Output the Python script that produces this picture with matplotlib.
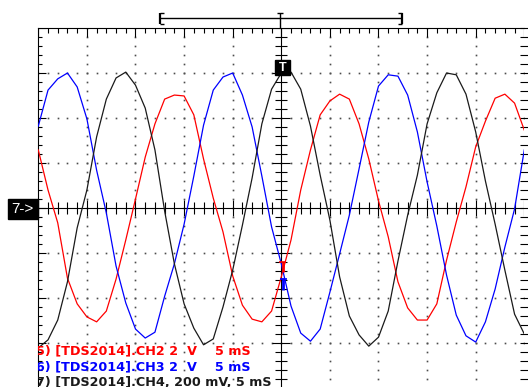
import numpy as np
import matplotlib.pyplot as plt
from matplotlib.patches import Rectangle

# scope screen: 5 ms/div, 10 div wide, 8 div high, trigger at centre
t_ms = np.arange(-25, 26, 1)

# CH2 (red), volts, 2 V/div
ch2_v = [2.58, 0.80, -0.66, -3.12, -4.26, -4.84, -5.06, -4.58, -3.16, -1.42,
         0.40, 2.26, 3.74, 4.84, 5.02, 4.98, 4.14, 2.18, 0.44, -1.06,
         -3.02, -4.32, -4.94, -5.06, -4.58, -3.06, -1.42, 0.80, 2.58, 4.14,
         4.76, 5.06, 4.84, 3.74, 2.18, 0.32, -1.28, -3.28, -4.44, -4.98,
         -4.98, -4.26, -2.32, -0.62, 0.94, 2.72, 3.86, 4.88, 5.06, 4.66, 3.46]
# CH3 (blue), volts, 2 V/div
ch3_v = [3.64, 5.24, 5.74, 6.00, 5.38, 3.96, 1.68, -0.22, -2.58, -4.22,
         -5.38, -5.78, -5.52, -3.92, -2.48, -0.72, 1.42, 3.68, 5.24, 5.82,
         6.00, 5.02, 3.60, 1.42, -0.84, -2.48, -4.36, -5.56, -5.92, -5.38,
         -3.74, -2.04, -0.32, 1.74, 3.82, 5.42, 5.92, 5.86, 5.02, 3.38,
         1.16, -0.80, -2.98, -4.76, -5.68, -5.96, -5.06, -3.60, -1.74, -0.04, 2.58]
# CH4 (black), volts, 200 mV/div
ch4_v = [-0.622, -0.586, -0.498, -0.328, -0.088, 0.080, 0.316, 0.484, 0.578, 0.604,
         0.546, 0.444, 0.258, -0.014, -0.248, -0.426, -0.534, -0.608, -0.582, -0.440,
         -0.276, -0.076, 0.134, 0.374, 0.528, 0.600, 0.604, 0.528, 0.364, 0.146,
         -0.054, -0.306, -0.480, -0.564, -0.614, -0.574, -0.458, -0.236, -0.032, 0.146,
         0.374, 0.512, 0.600, 0.592, 0.506, 0.338, 0.120, -0.072, -0.276, -0.472, -0.560]

volts_per_div = [2.0, 2.0, 0.2]
colors = ["#ff0000", "#0000ff", "#1a1a1a"]
labels = ["5) [TDS2014].CH2 2  V    5 mS",
          "6) [TDS2014].CH3 2  V    5 mS",
          "7) [TDS2014].CH4, 200 mV, 5 mS"]

W, H = 528, 387
fig = plt.figure(figsize=(W / 100, H / 100), dpi=100)
ax = fig.add_axes([38.3 / W, -1 / H, 486 / W, 360 / H])
ax.set_xlim(-25, 25)
ax.set_ylim(-4, 4)
ax.set_xticks([])
ax.set_yticks([])
ax.spines['right'].set_visible(False)
ax.spines['bottom'].set_visible(False)
ax.spines['left'].set_linewidth(0.8)
ax.spines['top'].set_linewidth(0.8)

dx = 50 / 486   # ms per pixel
dy = 8 / 360    # div per pixel
k = dict(color='black', linewidth=0.8)

# dotted graticule
xm = np.arange(-25, 25.01, 1)
ym = np.arange(-4, 4.01, 0.2)
for gx in range(-20, 21, 5):
    if gx != 0:
        ax.plot(np.full(len(ym), gx), ym, 's', ms=1.2, color='0.3', mew=0)
for gy in range(-3, 4):
    if gy != 0:
        ax.plot(xm, np.full(len(xm), gy), 's', ms=1.2, color='0.3', mew=0)

# border and centre ticks
for x in xm:
    major = abs(x % 5) < 1e-6
    L = 9 if major else 5
    ax.vlines(x, 4 - L * dy, 4, **k)
    h = 8 if major else 6
    ax.vlines(x, -h * dy, h * dy, **k)
for y in ym:
    major = abs(round(y, 3) % 1) < 1e-6
    L = 8 if major else 4
    ax.hlines(y, -25, -25 + L * dx, **k)
    h = 9 if major else 6
    ax.hlines(y, -h * dx, h * dx, **k)
    ax.hlines(y, 25 - 4 * dx, 25 + 4 * dx, clip_on=False, **k)
ax.axhline(0, **k)
ax.axvline(0, **k)

# traces
for vals, s, c in zip([ch2_v, ch3_v, ch4_v], volts_per_div, colors):
    ax.plot(t_ms, np.array(vals) / s, color=c, linewidth=0.9, zorder=3)

# trigger level marks
ax.vlines(0.15, -1.42, -1.2, color=colors[0], linewidth=2, zorder=4)
ax.hlines(-1.2, -0.2, 0.5, color=colors[0], linewidth=1.2, zorder=4)
ax.vlines(0.2, -1.82, -1.56, color=colors[1], linewidth=2, zorder=4)
ax.hlines(-1.58, -0.15, 0.55, color=colors[1], linewidth=1.2, zorder=4)

# channel labels
for i, (txt, c) in enumerate(zip(labels, colors)):
    ax.text(-25.24, -3.244 - i * 0.356, txt, color=c, fontsize=9.2,
            fontweight='bold', family='DejaVu Sans', va='baseline',
            ha='left', clip_on=True, zorder=5)

# record window bracket at top
win = (-12.45, 12.4)
yb = 4.216
ax.hlines(yb, win[0], win[1], color='black', linewidth=1.0, clip_on=False)
for x0, d in [(win[0], 1), (win[1], -1)]:
    ax.vlines(x0, 4.09, 4.34, color='black', linewidth=1.6, clip_on=False)
    ax.hlines([4.09, 4.34], x0, x0 + d * 0.35, color='black', linewidth=1.0, clip_on=False)
ax.vlines(-0.13, 4.0, 4.33, color='black', linewidth=1.0, clip_on=False)
ax.hlines(4.33, -0.45, 0.2, color='black', linewidth=1.0, clip_on=False)

# trigger position marker
ax.add_patch(Rectangle((-0.65, 2.956), 1.55, 0.333, color='black', zorder=6))
ax.text(0.12, 3.12, "T", color='white', fontsize=9, fontweight='bold',
        family='Liberation Sans', ha='center', va='center', zorder=7)

# channel 7 ground marker
ax.add_patch(Rectangle((-28.12, -0.244), 3.12, 0.444, color='black',
                       clip_on=False, zorder=6))
ax.text(-26.6, -0.02, "7->", color='white', fontsize=11,
        family='Liberation Sans', ha='center', va='center', clip_on=False, zorder=7)

fig.savefig("out.png", dpi=100)
